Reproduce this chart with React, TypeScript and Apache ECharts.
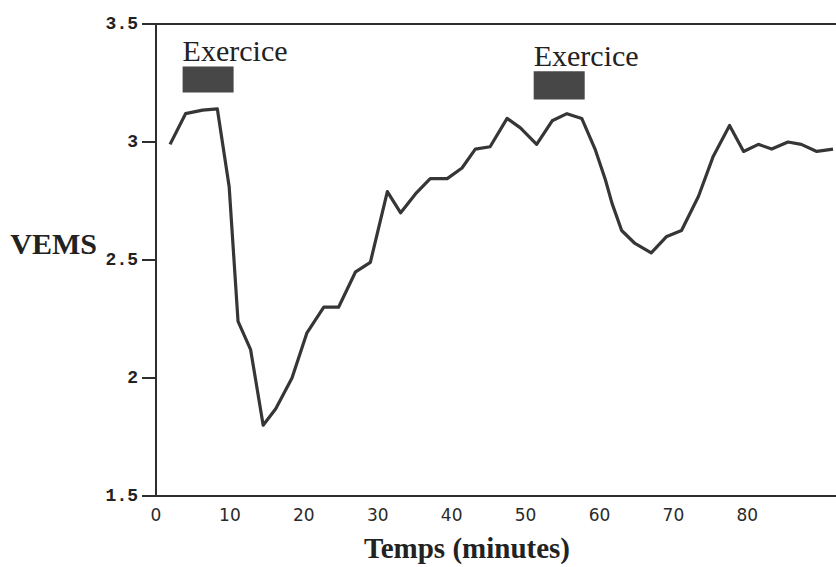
import React, { useEffect, useRef } from "react";
import * as echarts from "echarts";

// Time (minutes) and VEMS values
const time = [
  1.9, 4.0, 6.3, 8.3, 9.9, 11.1, 12.8, 14.5, 16.2, 18.4, 20.4, 22.7, 24.7, 27.0,
  29.0, 31.3, 33.1, 35.1, 37.1, 39.4, 41.4, 43.2, 45.2, 47.5, 49.3, 51.5, 53.6,
  55.6, 57.6, 59.4, 60.8, 61.7, 63.0, 64.8, 67.0, 69.1, 71.1, 73.4, 75.4, 77.6,
  79.5, 81.5, 83.3, 85.5, 87.3, 89.4, 91.6,
];
const vems = [
  2.99, 3.12, 3.135, 3.14, 2.81, 2.24, 2.12, 1.8, 1.87, 2.0, 2.19, 2.3, 2.3, 2.45,
  2.49, 2.79, 2.7, 2.78, 2.845, 2.845, 2.89, 2.97, 2.98, 3.1, 3.06, 2.99, 3.09,
  3.12, 3.1, 2.97, 2.84, 2.74, 2.625, 2.57, 2.53, 2.6, 2.625, 2.77, 2.94, 3.07,
  2.96, 2.99, 2.97, 3.0, 2.99, 2.96, 2.97,
];

// Exercise periods (markers)
const exerciseLabels = ["Exercice", "Exercice"];
const exerciseStart = [3.6, 51.1];
const exerciseEnd = [10.5, 58.0];
const exerciseTop = [3.32, 3.3];
const exerciseBottom = [3.21, 3.18];

// Axis settings
const xMin = 0;
const xMax = 92;
const xStep = 10;
const xLastLabel = 80;
const yMin = 1.5;
const yMax = 3.5;
const yStep = 0.5;

export default function App() {
  const ref = useRef<HTMLDivElement>(null);

  useEffect(() => {
    if (!ref.current) return;
    const chart = echarts.init(ref.current, null, { renderer: "svg" });
    const axisLineStyle = { color: "#2e2e2e", width: 2 };
    chart.setOption({
      animation: false,
      backgroundColor: "#ffffff",
      grid: { left: 156, right: 0, top: 24, bottom: 71, containLabel: false },
      xAxis: [
        {
          type: "value",
          min: xMin,
          max: xMax,
          interval: xStep,
          axisLine: { show: true, lineStyle: axisLineStyle },
          axisTick: { show: false },
          splitLine: { show: false },
          axisLabel: {
            formatter: (v: number) => (v <= xLastLabel ? String(v) : ""),
            fontFamily: "DejaVu Sans",
            fontSize: 17,
            color: "#2a2a2a",
            margin: 10,
            showMaxLabel: false,
          },
          name: "Temps (minutes)",
          nameLocation: "middle",
          nameGap: 37,
          nameTextStyle: {
            fontFamily: "Liberation Serif",
            fontSize: 29,
            fontWeight: "bold",
            color: "#222",
            padding: [0, 58, 0, 0],
          },
        },
        {
          type: "value",
          position: "top",
          min: xMin,
          max: xMax,
          interval: xStep,
          axisLine: { show: true, lineStyle: axisLineStyle },
          axisTick: { show: false },
          axisLabel: { show: false },
          splitLine: { show: false },
        },
      ],
      yAxis: {
        type: "value",
        min: yMin,
        max: yMax,
        interval: yStep,
        axisLine: { show: true, lineStyle: axisLineStyle },
        axisTick: { show: true, length: 14, lineStyle: axisLineStyle },
        splitLine: { show: false },
        axisLabel: {
          fontFamily: "Liberation Mono",
          fontWeight: "bold",
          fontSize: 18,
          color: "#222",
          margin: 18,
        },
        name: "VEMS",
        nameLocation: "middle",
        nameRotate: 0,
        nameGap: 59,
        nameTextStyle: {
          fontFamily: "Liberation Serif",
          fontSize: 30,
          fontWeight: "bold",
          color: "#222",
          verticalAlign: "bottom",
          padding: [0, 0, 2, 0],
        },
      },
      series: [
        {
          type: "line",
          data: time.map((t, i) => [t, vems[i]]),
          showSymbol: false,
          symbol: "none",
          lineStyle: { color: "#363636", width: 3.2, join: "round" },
          markArea: {
            silent: true,
            itemStyle: { color: "#474747" },
            label: {
              show: true,
              position: [0, -1],
              align: "left",
              verticalAlign: "bottom",
              fontFamily: "Liberation Serif",
              fontSize: 30,
              color: "#222",
            },
            data: exerciseStart.map((s, i) => [
              { name: exerciseLabels[i], xAxis: s, yAxis: exerciseTop[i] },
              { xAxis: exerciseEnd[i], yAxis: exerciseBottom[i] },
            ]),
          },
        },
      ],
    });
    return () => chart.dispose();
  }, []);

  return (
    <div
      ref={ref}
      style={{ position: "fixed", left: 0, top: 0, width: 836, height: 567, background: "#fff" }}
    />
  );
}
